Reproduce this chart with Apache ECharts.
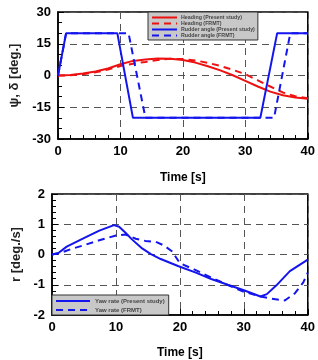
<meta charset="utf-8">
<script src="https://cdn.jsdelivr.net/npm/echarts@6/dist/echarts.min.js"></script>
<div id="main" style="position:absolute;left:0;top:0;width:318px;height:360px"></div>
<script>
// heading, sampled every 2 s
const headT = [0,2,4,6,8,10,12,14,16,18,20,22,24,26,28,30,32,34,36,38,40]
const headPresent = [0,0.2,0.9,1.9,3.3,5.3,6.9,7.6,8.0,7.9,7.3,6.1,4.4,2.4,0.1,-2.5,-5.2,-7.6,-9.3,-10.4,-11.0]
const headFRMT = [0,0.1,0.6,1.5,2.8,4.5,5.6,6.4,7.3,7.9,7.8,7.1,6.0,4.5,2.7,0.6,-2.3,-5.2,-8.0,-9.8,-10.8]

// rudder angle corners
const rudPresentT = [0,1.3,9.5,12.0,32.4,35.1,40]
const rudPresent = [0,20,20,-20,-20,20,20]
const rudFRMTT = [0,1.3,11.3,14.0,34.6,37.2,40]
const rudFRMT = [0,20,20,-20,-20,20,20]

// yaw rate
const yawPresentT = [0,1,2.3,4.9,7.4,9.7,10.5,11.5,12.5,14.1,15.4,17,19.7,22.5,24.9,27.5,30,32.6,33.6,35.1,37.2,40]
const yawPresent = [0,0.05,0.26,0.53,0.79,0.97,0.92,0.72,0.5,0.2,0.02,-0.15,-0.38,-0.6,-0.81,-1.0,-1.18,-1.39,-1.31,-1.02,-0.55,-0.17]
const yawFRMTT = [0,1.3,3,4.9,7.4,10,11.5,13.1,14.6,16.2,17.5,18.8,20,22.3,24.9,27.4,30,32.6,34.4,36.4,38,39.3,40]
const yawFRMT = [0,0.05,0.18,0.3,0.47,0.63,0.66,0.52,0.45,0.42,0.3,0.1,-0.29,-0.5,-0.76,-1.0,-1.23,-1.39,-1.46,-1.52,-1.28,-0.92,-0.6]

const xTicks = [0,10,20,30,40]

const zip=(t,v)=>t.map((x,i)=>[x,v[i]])
const RED='#ee1111', BLUE='#1414ee'
const dash=[7,5]

const xax=(gi,gap)=>({
  gridIndex:gi, type:'value', min:xTicks[0], max:xTicks[xTicks.length-1], interval:10,
  name:'Time [s]', nameLocation:'middle', nameGap:gap,
  nameTextStyle:{fontSize:12, fontWeight:'bold', color:'#000', fontFamily:'Liberation Sans'},
  axisLine:{onZero:false, lineStyle:{color:'#000', width:1.5}},
  axisTick:{inside:true, length:6, lineStyle:{color:'#000', width:1}},
  minorTick:{show:true, splitNumber:5, length:4, lineStyle:{color:'#000', width:1}},
  axisLabel:{fontSize:13, fontWeight:'bold', color:'#000', margin:6, fontFamily:'Liberation Sans'},
  splitLine:{show:true, lineStyle:{color:'#555', type:dash}},
})
const yax=(gi,mn,mx,iv,nm,gap,minor)=>({
  gridIndex:gi, type:'value', min:mn, max:mx, interval:iv,
  name:nm, nameLocation:'middle', nameGap:gap,
  nameTextStyle:{fontSize:13, fontWeight:'bold', color:'#222', fontFamily:'Liberation Sans'},
  axisLine:{show:true, onZero:false, lineStyle:{color:'#000', width:1.5}},
  axisTick:{show:true, inside:true, length:6, lineStyle:{color:'#000', width:1}},
  minorTick:{show:true, splitNumber:minor, length:4, lineStyle:{color:'#000', width:1}},
  axisLabel:{fontSize:13, fontWeight:'bold', color:'#000', margin:7, fontFamily:'Liberation Sans'},
  splitLine:{show:true, lineStyle:{color:'#555', type:dash}},
})
const ln=(name,data,color,type,xi)=>({
  name, type:'line', data, xAxisIndex:xi, yAxisIndex:xi, symbol:'none',
  lineStyle:{color, width:2, type}, itemStyle:{color}, z:3,
})
const legendBox={
  orient:'vertical', backgroundColor:'#c8c8c8', borderColor:'#333', borderWidth:1,
  borderRadius:0, itemGap:1, itemStyle:{opacity:0},
}

const chart=echarts.init(main)
chart.setOption({
  backgroundColor:'#fff',
  animation:false,
  grid:[
    {left:58, top:12, width:253, height:127, show:true, borderColor:'#000', borderWidth:1.5},
    {left:52, top:194, width:259, height:127, show:true, borderColor:'#000', borderWidth:1.5},
  ],
  xAxis:[xax(0,33), xax(1,32)],
  yAxis:[yax(0,-30,30,15,'ψ, δ [deg.]',32,3), yax(1,-2,2,1,'r [deg./s]',27,5)],
  legend:[
    Object.assign({}, legendBox, {
      data:['Heading (Present study)','Heading (FRMT)','Rudder angle (Present study)','Rudder angle (FRMT)'],
      left:148, top:12, padding:[3,3,2,3], itemWidth:25, itemHeight:6,
      textStyle:{fontSize:5.3, fontWeight:'bold', color:'#444', padding:[0,0,0,-1]},
    }),
    Object.assign({}, legendBox, {
      data:['Yaw rate (Present study)','Yaw rate (FRMT)'],
      left:52, top:295, padding:[3,4,2,3], itemGap:3, itemWidth:34, itemHeight:7,
      textStyle:{fontSize:6, fontWeight:'bold', color:'#444'},
    }),
  ],
  series:[
    ln('Heading (Present study)', zip(headT,headPresent), RED, 'solid', 0),
    ln('Heading (FRMT)', zip(headT,headFRMT), RED, dash, 0),
    ln('Rudder angle (Present study)', zip(rudPresentT,rudPresent), BLUE, 'solid', 0),
    ln('Rudder angle (FRMT)', zip(rudFRMTT,rudFRMT), BLUE, dash, 0),
    ln('Yaw rate (Present study)', zip(yawPresentT,yawPresent), BLUE, 'solid', 1),
    ln('Yaw rate (FRMT)', zip(yawFRMTT,yawFRMT), BLUE, dash, 1),
  ],
})
</script>
